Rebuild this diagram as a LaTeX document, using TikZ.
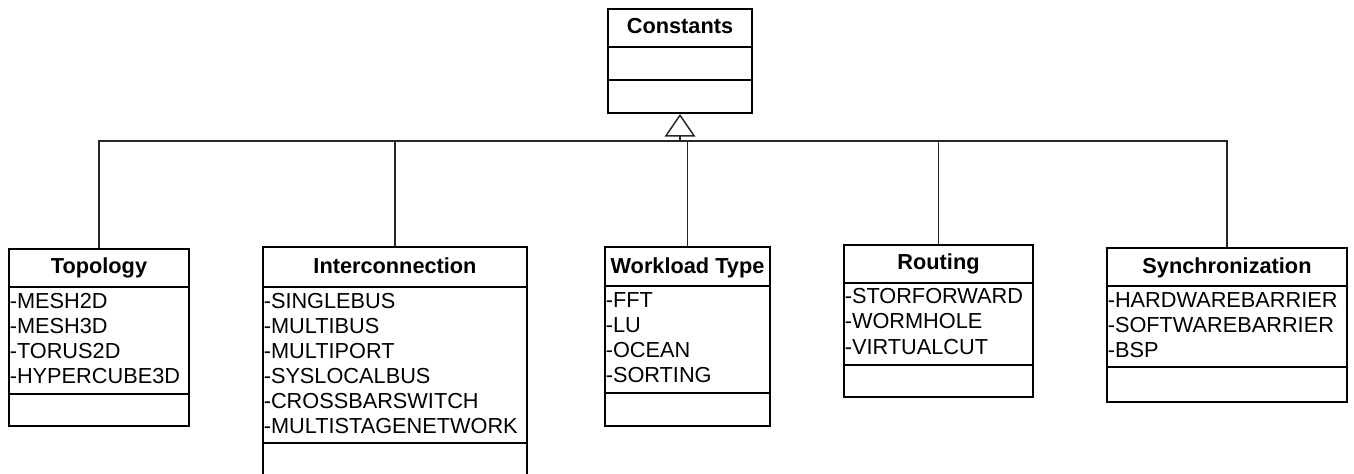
\documentclass[tikz,border=0pt]{standalone}
\usepackage{fontspec}
\setmainfont{Liberation Sans}
\usetikzlibrary{arrows.meta,fit}

% One UML class box: id, left, top, right, bottom, first separator, second separator, name
\newcommand\umlclass[8]{%
  \node[classbox, fit={(#2,#3)(#4,#5)}] (#1) {};
  \draw[sepline] (#2,#6) -- (#4,#6);
  \draw[sepline] (#2,#7) -- (#4,#7);
  \node[classtitle] (#1-title) at ({(#2+#4)/2},#6-13) {#8};
}
% Attribute list of a class: id, left, first separator, comma separated entries
\newcommand\umlattrs[4]{%
  \foreach \t [count=\i from 0] in {#4}
    \node[classattr] (#1-a\i) at (#2+0.5,#3+21+25*\i) {\t};
}

\begin{document}
\begin{tikzpicture}[x=0.75pt,y=-0.75pt,
  classbox/.style={draw=black, line width=1.4pt, fill=white, inner sep=0pt},
  sepline/.style={draw=black, line width=1.4pt},
  classtitle/.style={font=\fontsize{16.3}{18.75}\selectfont\bfseries, anchor=base, inner sep=0pt},
  classattr/.style={font=\fontsize{16.3}{18.75}\selectfont, anchor=base west, inner sep=0pt},
  conn/.style={draw=black!85, line width=0.8pt},
  gen/.style={conn, -{Triangle[open, length=17pt, width=23pt, line width=1.1pt]}}]

\useasboundingbox (0,0) rectangle (1354,474);

% classes
\umlclass{const}{608}{9}{752}{113}{47}{80}{Constants}
\umlclass{topo}{9}{249}{189}{426}{287}{394}{Topology}
\umlattrs{topo}{9}{287}{-MESH2D,-MESH3D,-TORUS2D,-HYPERCUBE3D}
\umlclass{inter}{263}{247}{527}{477}{287}{443}{Interconnection}
\umlattrs{inter}{263}{287}{-SINGLEBUS,-MULTIBUS,-MULTIPORT,-SYSLOCALBUS,-CROSSBARSWITCH,-MULTISTAGENETWORK}
\umlclass{work}{605}{247}{770}{426}{286}{393}{Workload Type}
\umlattrs{work}{605}{286}{-FFT,-LU,-OCEAN,-SORTING}
\umlclass{route}{844}{245}{1033}{397}{283}{365}{Routing}
\umlattrs{route}{844}{283}{-STORFORWARD,-WORMHOLE,-VIRTUALCUT}
\umlclass{sync}{1107}{248}{1347}{402}{286}{367}{Synchronization}
\umlattrs{sync}{1107}{286}{-HARDWAREBARRIER,-SOFTWAREBARRIER,-BSP}

% generalization bus
\coordinate (bus) at (0,141);
\draw[conn] (topo.north) -- (topo.north |- bus) -- (sync.north |- bus) -- (sync.north);
\draw[conn] (inter.north) -- (inter.north |- bus);
\draw[conn] (work.north) -- (work.north |- bus);
\draw[conn] (route.north) -- (route.north |- bus);
\draw[gen] (const.south |- bus) -- (const.south);
\end{tikzpicture}
\end{document}
